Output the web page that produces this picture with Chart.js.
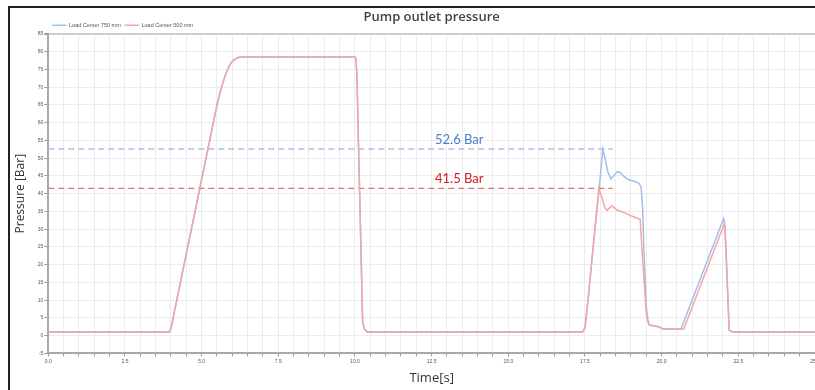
<!DOCTYPE html>
<html>
<head>
<meta charset="utf-8">
<title>Pump outlet pressure</title>
<script src="https://cdn.jsdelivr.net/npm/chart.js@4.4.0/dist/chart.umd.min.js"></script>
<style>
  html, body { margin: 0; padding: 0; background: #fff; }
  #wrap { position: relative; width: 815px; height: 390px; }
  #frame { position: absolute; left: 8px; top: 6px; right: 0; bottom: 0;
           border-left: 2px solid #222; border-top: 2px solid #222; pointer-events: none; }
</style>
</head>
<body>
<div id="wrap">
  <canvas id="pressureChart" width="815" height="390"></canvas>
  <div id="frame"></div>
</div>
<script>
// series (time in s, pressure in bar)
var redTime     = [0, 3.95, 4.0, 4.1, 5.5, 5.6, 5.7, 5.8, 5.9, 6.0, 6.1, 6.2, 6.3, 10.0, 10.03, 10.06, 10.25, 10.3, 10.4,
                   17.42, 17.5, 17.6, 17.75, 17.95, 18.05, 18.15, 18.22, 18.3, 18.38, 18.48, 18.6, 18.8, 19.0, 19.3, 19.36,
                   19.5, 19.55, 19.6, 19.9, 20.05, 20.72, 22.05, 22.1, 22.2, 22.3, 25];
var redPressure = [1, 1, 2, 6.3, 65, 68.5, 71.5, 74, 76, 77.3, 78, 78.4, 78.5, 78.5, 78, 74, 4, 2, 1,
                   1, 2.2, 10, 23.5, 41.5, 39, 36, 35.3, 36, 36.6, 35.8, 35.2, 34.6, 33.8, 32.8, 24,
                   6.3, 4, 3, 2.5, 1.9, 1.9, 31.7, 25, 1.6, 1, 1];

var blueTime     = [0, 3.95, 4.0, 4.1, 5.5, 5.6, 5.7, 5.8, 5.9, 6.0, 6.1, 6.2, 6.3, 10.0, 10.03, 10.06, 10.25, 10.3, 10.4,
                    17.42, 17.5, 17.6, 17.75, 17.97, 18.08, 18.15, 18.25, 18.35, 18.45, 18.55, 18.65, 18.75, 18.9, 19.1,
                    19.25, 19.33, 19.38, 19.42, 19.5, 19.55, 19.6, 19.9, 20.05, 20.63, 22.02, 22.06, 22.2, 22.3, 25];
var bluePressure = [1, 1, 2, 6.3, 65, 68.5, 71.5, 74, 76, 77.3, 78, 78.4, 78.5, 78.5, 78, 74, 4, 2, 1,
                    1, 2.2, 10, 23.5, 42, 52.6, 50, 46, 44.2, 45.2, 46.2, 46, 45, 44, 43.5,
                    43, 42, 36, 24, 8, 4.5, 3, 2.5, 1.9, 1.9, 33, 31, 1.6, 1, 1];

var seriesNames = ['Load Center 500 mm', 'Load Center 750 mm'];

// dashed peak markers
var markerValues = [52.6, 41.5];
var markerText   = ['52.6 Bar', '41.5 Bar'];
var markerStart  = 0;
var markerEnd    = 18.4;
var markerLabelTime = 13.4;

var toPoints = function(xs, ys) {
  return xs.map(function(t, i) { return {x: t, y: ys[i]}; });
};

var markerLabels = {
  id: 'markerLabels',
  afterDatasetsDraw: function(chart) {
    var ctx = chart.ctx;
    var x = chart.scales.x, y = chart.scales.y;
    var colors = ['#4a7cc4', '#cf1f1f'];
    ctx.save();
    ctx.font = '13px Lato';
    ctx.textAlign = 'center';
    ctx.textBaseline = 'bottom';
    markerValues.forEach(function(v, i) {
      ctx.fillStyle = colors[i];
      ctx.fillText(markerText[i], x.getPixelForValue(markerLabelTime), y.getPixelForValue(v) - 3);
    });
    ctx.restore();
  }
};

var ctx = document.getElementById('pressureChart').getContext('2d');

var myChart = new Chart(ctx, {
  type: 'line',
  data: {
    datasets: [{
      label: seriesNames[0],
      data: toPoints(redTime, redPressure),
      borderColor: '#f6a5a5',
      backgroundColor: '#f6a5a5',
      borderWidth: 1.5,
      pointRadius: 0,
      tension: 0
    }, {
      label: seriesNames[1],
      data: toPoints(blueTime, bluePressure),
      borderColor: '#9fc0ea',
      backgroundColor: '#9fc0ea',
      borderWidth: 1.5,
      pointRadius: 0,
      tension: 0
    }, {
      label: markerText[0],
      data: toPoints([markerStart, markerEnd], [markerValues[0], markerValues[0]]),
      borderColor: '#a6c2ec',
      borderWidth: 1.3,
      borderDash: [6, 4],
      pointRadius: 0
    }, {
      label: markerText[1],
      data: toPoints([markerStart, markerEnd], [markerValues[1], markerValues[1]]),
      borderColor: '#e27171',
      borderWidth: 1.3,
      borderDash: [6, 4],
      pointRadius: 0
    }]
  },
  options: {
    responsive: false,
    animation: false,
    layout: { padding: { top: 8, left: 0, right: 0, bottom: 0 } },
    plugins: {
      title: {
        display: true,
        text: 'Pump outlet pressure',
        fullSize: false,
        color: '#444',
        font: { family: 'Open Sans', size: 13, weight: '600' },
        padding: { top: 1, bottom: -6 }
      },
      legend: {
        fullSize: false,
        align: 'start',
        maxHeight: 15.4,
        labels: {
          usePointStyle: true,
          pointStyle: 'line',
          pointStyleWidth: 14,
          padding: 4,
          color: '#555',
          font: { family: 'Liberation Sans', size: 5.5 },
          filter: function(item) { return item.datasetIndex < 2; },
          sort: function(a, b) { return b.datasetIndex - a.datasetIndex; }
        }
      },
      tooltip: { enabled: false }
    },
    scales: {
      x: {
        type: 'linear',
        min: 0,
        max: 25,
        ticks: {
          stepSize: 0.5,
          maxTicksLimit: 100,
          autoSkip: false,
          maxRotation: 0,
          padding: 2,
          color: '#555',
          font: { family: 'Liberation Sans', size: 5 },
          callback: function(value) {
            var k = value / 2.5;
            return Math.abs(k - Math.round(k)) < 1e-6 ? value.toFixed(1) : '';
          }
        },
        grid: { color: '#ececec', tickColor: '#999', tickLength: 3 },
        border: { color: '#a8a8a8', width: 2 },
        title: {
          display: true,
          text: 'Time[s]',
          color: '#333',
          font: { family: 'Open Sans', size: 13 },
          padding: { top: 0, bottom: 4 }
        },
        afterFit: function(scale) {
          scale.height = 36.6;
          scale.paddingLeft = 0;
          scale.paddingRight = 0;
        }
      },
      y: {
        min: -5,
        max: 85,
        ticks: {
          stepSize: 5,
          padding: 1,
          color: '#555',
          font: { family: 'Liberation Sans', size: 5 }
        },
        grid: {
          color: function(c) { return c.tick && c.tick.value === 85 ? '#cdcdcd' : '#ececec'; },
          lineWidth: function(c) { return c.tick && c.tick.value === 85 ? 2 : 1; },
          tickColor: '#999',
          tickLength: 4
        },
        border: { color: '#a8a8a8', width: 2 },
        title: {
          display: true,
          text: 'Pressure [Bar]',
          color: '#333',
          font: { family: 'Open Sans', size: 12 },
          padding: { top: 13, bottom: 0 }
        },
        afterFit: function(scale) {
          scale.width = 48.3;
          scale.paddingTop = 0;
          scale.paddingBottom = 0;
        }
      }
    }
  },
  plugins: [markerLabels]
});
</script>
</body>
</html>
